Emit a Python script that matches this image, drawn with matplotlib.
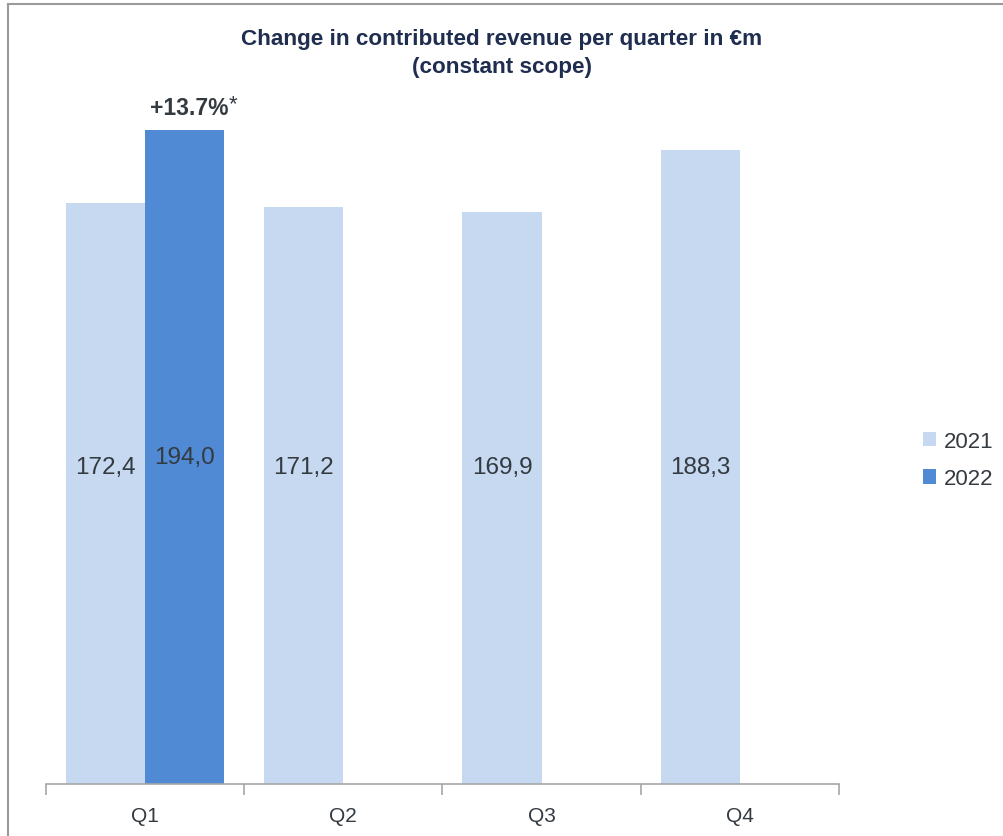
import matplotlib
matplotlib.use('Agg')
from matplotlib import pyplot as plt
from matplotlib.lines import Line2D
import numpy as np

quarters = ['Q1', 'Q2', 'Q3', 'Q4']
rev_2021 = [172.4, 171.2, 169.9, 188.3]
rev_2022 = [194.0]
labels_2021 = ['172,4', '171,2', '169,9', '188,3']
labels_2022 = ['194,0']
growth_label = '+13.7%'

plt.rcParams['font.family'] = ['Liberation Sans', 'DejaVu Sans']

c21 = '#C6D9F0'
c22 = '#5089D4'
txt = '#333A40'

fig = plt.figure(figsize=(10.04, 8.37), dpi=100)
# axes: x 46..839 px, y 100..785 px (from top)
ax = fig.add_axes([46 / 1004, (837 - 785) / 837, (839 - 46) / 1004, (785 - 100) / 837])

x = np.arange(len(quarters))
w = 0.4
ax.bar(x - w / 2, rev_2021, w, color=c21, label='2021')
ax.bar(x[:len(rev_2022)] + w / 2, rev_2022, w, color=c22, label='2022')

for xi, v, s in zip(x - w / 2, rev_2021, labels_2021):
    ax.text(xi, max(v / 2, 94), s, ha='center', va='center', fontsize=17.5, color=txt)
for xi, v, s in zip(x[:len(rev_2022)] + w / 2, rev_2022, labels_2022):
    ax.text(xi, max(v / 2, 94), s, ha='center', va='center', fontsize=17.5, color=txt)
    ax.annotate(growth_label, (xi, v), xytext=(-25, 16.5), textcoords='offset points',
                ha='left', va='center', fontsize=16.5, fontweight='bold', color=txt)
    ax.annotate('*', (xi, v), xytext=(31.5, 19), textcoords='offset points',
                ha='left', va='center', fontsize=16, color=txt)

ax.set_xlim(-0.5, len(quarters) - 0.5)
ax.set_ylim(0, 203.3)
ax.set_yticks([])
for sp in ['left', 'right', 'top']:
    ax.spines[sp].set_visible(False)
ax.spines['bottom'].set_color('#A6A6A6')
ax.spines['bottom'].set_linewidth(1.2)

ax.set_xticks(np.arange(len(quarters) + 1) - 0.5, minor=False)
ax.set_xticklabels([])
ax.tick_params(axis='x', which='major', length=8, color='#A6A6A6', width=1.2)
ax.set_xticks(x, minor=True)
ax.set_xticklabels(quarters, minor=True, fontsize=15, color=txt)
ax.tick_params(axis='x', which='minor', length=0, pad=16)

fig.text(0.5, 1 - 40 / 837, 'Change in contributed revenue per quarter in €m',
         ha='center', va='center', fontsize=16.2, fontweight='bold', color='#1F2D4F')
fig.text(0.5, 1 - 68 / 837, '(constant scope)',
         ha='center', va='center', fontsize=16.2, fontweight='bold', color='#1F2D4F')

fig.legend(loc='center left', bbox_to_anchor=(903 / 1004, 1 - 461 / 837), frameon=False,
           fontsize=16, handlelength=0.6, handleheight=0.6, handletextpad=0.35,
           labelspacing=0.75, labelcolor=txt)

# frame lines (top and left) like the slide border
fig.add_artist(Line2D([8 / 1004, 8 / 1004], [0, 1 - 5 / 837], color='#9A9A9A', lw=1.5))
fig.add_artist(Line2D([8 / 1004, 1], [1 - 5 / 837, 1 - 5 / 837], color='#9A9A9A', lw=1.5))

fig.savefig('out.png', dpi=100)
